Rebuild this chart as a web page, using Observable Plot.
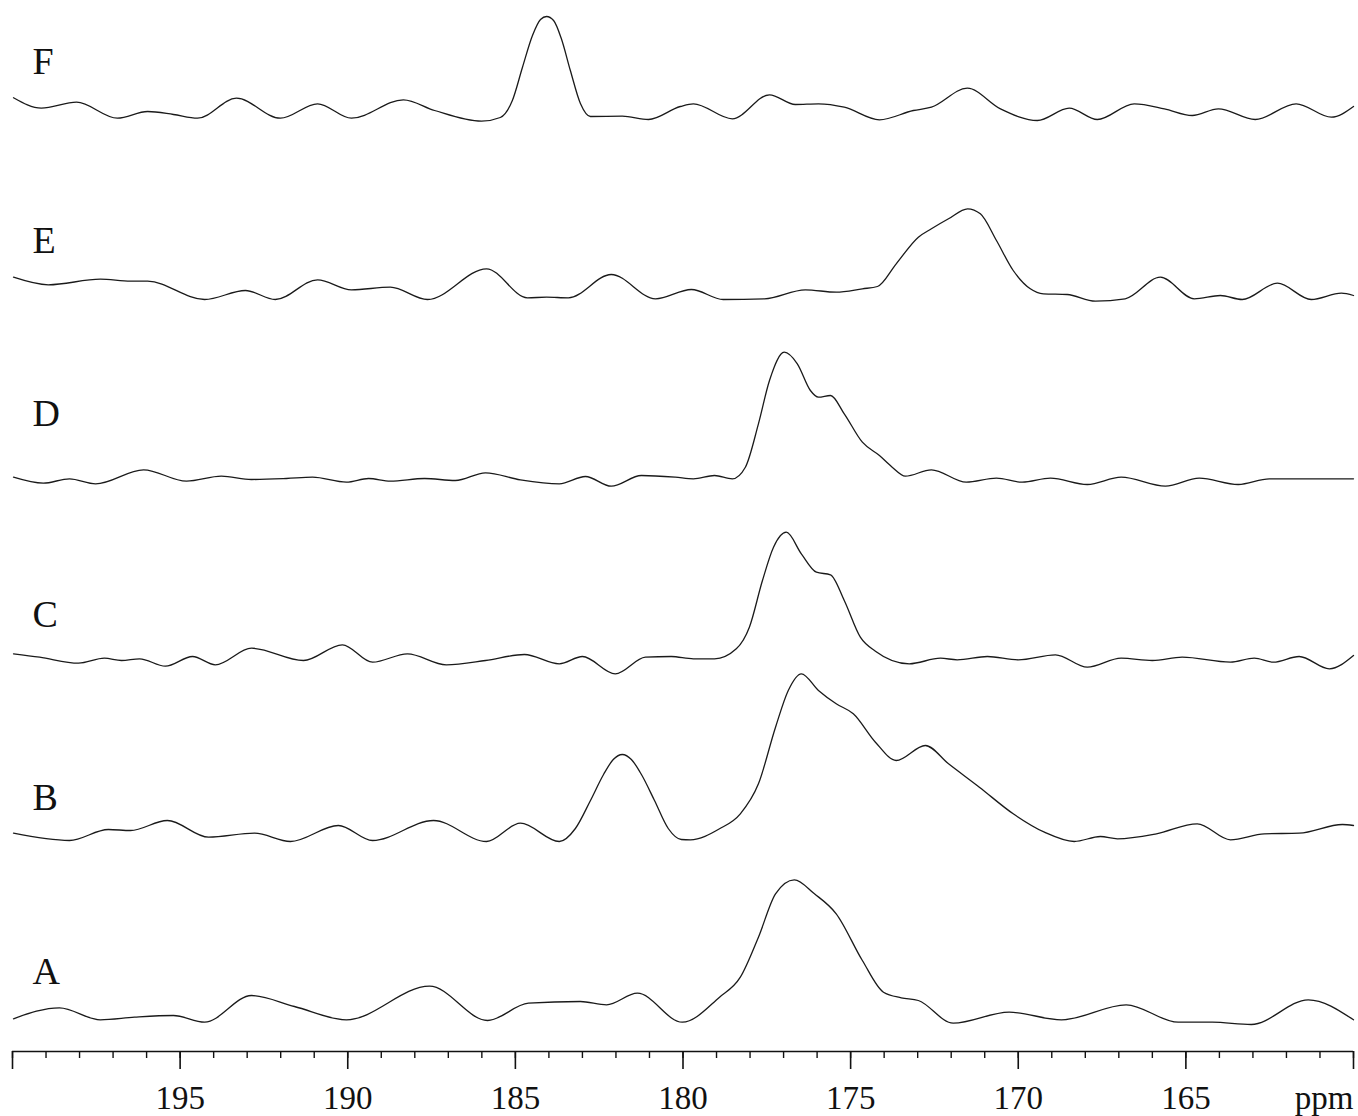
<!DOCTYPE html>
<html>
<head>
<meta charset="utf-8">
<script src="https://cdn.jsdelivr.net/npm/d3@7"></script>
<script src="https://cdn.jsdelivr.net/npm/@observablehq/plot@0.6"></script>
<style>
  html, body { margin: 0; padding: 0; background: #fff; }
  #chart { width: 1358px; height: 1116px; }
</style>
</head>
<body>
<div id="chart"></div>
<script>
// ---- Data: chemical shift (ppm) vs. relative intensity, one array per spectrum ----
const spectrumLabels = ["A", "B", "C", "D", "E", "F"];

const spectrumA = [
  [199.97, 1.7], [198.60, 12.7], [197.38, 0.7], [196.36, 3.3], [195.20, 5], [194.27, -1.7],
  [192.87, 25], [191.59, 14], [190.04, 0.7], [187.56, 34.3], [185.83, 0], [184.61, 17.3],
  [183.06, 19], [182.28, 15.7], [181.36, 27.3], [180.02, -1.7], [178.91, 23.3], [178.29, 43.3],
  [177.75, 83.3], [177.24, 126.7], [176.68, 140.7], [176.08, 126.7], [175.43, 106.7], [174.65, 60],
  [174.02, 28.3], [173.49, 22.7], [172.98, 20], [171.94, -2.7], [170.27, 8.3], [168.71, 0.7],
  [166.78, 15.7], [165.23, -1.7], [164.21, -1.7], [163.05, -4], [161.35, 20.7], [160.0, 0.7]
];

const spectrumB = [
  [199.97, 7.3], [198.30, 0], [197.14, 11], [196.48, 10], [195.38, 20], [194.15, 3.3],
  [192.78, 7.3], [191.71, -1], [190.28, 15], [189.26, 0], [187.44, 20], [185.86, -1],
  [184.85, 17.3], [183.69, -1], [183.21, 12], [182.76, 40], [182.37, 66], [182.08, 81],
  [181.81, 86], [181.54, 81], [181.24, 66], [180.85, 40], [180.44, 12], [180.05, 1],
  [179.78, 0.7], [178.91, 11.7], [178.29, 26.7], [177.75, 56.7], [177.24, 113.3],
  [176.86, 150], [176.47, 166.7], [175.96, 150], [175.43, 136.7], [174.92, 126.7], [174.26, 98.3],
  [173.64, 80], [172.77, 95], [172.08, 76.7], [171.16, 53.3], [170.15, 26.7], [169.22, 8.3],
  [168.33, -1], [167.55, 4], [167.04, 1.7], [165.88, 6.7], [164.66, 16.7], [163.67, 0.7],
  [162.66, 6.7], [161.62, 7.3], [160.33, 16], [160.0, 15]
];

const spectrumC = [
  [199.97, 6.7], [199.19, 3.3], [198.03, -2.7], [197.26, 2.3], [196.75, 0], [196.21, 1.7],
  [195.44, -5.7], [194.63, 4], [193.95, -4.3], [192.87, 12.3], [191.32, 0], [190.16, 15.7],
  [189.26, -1.7], [188.22, 6.7], [187.06, -4.3], [185.89, 0], [184.73, 6], [183.69, -3.3],
  [183.00, 4], [182.02, -13.3], [181.12, 3.3], [180.35, 4], [179.69, 1.7], [179.06, 1.7],
  [178.41, 11.7], [178.02, 33.3], [177.63, 80], [177.30, 113.3], [176.92, 128.3], [176.47, 106.7],
  [176.02, 88.3], [175.60, 85.7], [175.19, 60], [174.71, 23.3], [174.26, 9.3], [173.25, -3.3],
  [172.32, 2.3], [171.82, 0.7], [170.92, 4], [170.00, 0.7], [168.89, 5.7], [167.94, -6.7],
  [166.93, 2.3], [166.00, 0], [165.11, 3.3], [163.67, -1.7], [162.96, 2.3], [162.39, -1.7],
  [161.62, 4], [160.72, -8.3], [160.0, 5]
];

const spectrumD = [
  [199.97, 4.3], [199.08, -1.7], [198.30, 2.7], [197.52, -2.3], [196.09, 11.7], [194.81, 0.3],
  [193.77, 5.3], [192.87, 2], [191.83, 3], [191.05, 4.3], [190.04, -0.7], [189.38, 3],
  [188.73, 0.3], [187.71, 3], [186.79, 1], [185.89, 8.7], [184.85, 1.7], [183.69, -2.3],
  [182.91, 5], [182.14, -4.7], [181.24, 6], [180.23, 4.3], [179.69, 2.7], [179.06, 6],
  [178.53, 2.7], [178.14, 14.3], [177.75, 57.7], [177.42, 101], [176.98, 129.3], [176.59, 117.7],
  [176.20, 91], [175.96, 84.3], [175.60, 86], [175.19, 67.7], [174.65, 39.3], [174.14, 26],
  [173.76, 14.3], [173.37, 5.3], [172.59, 11.7], [171.55, -0.7], [170.65, 3.3], [169.88, -0.7],
  [169.04, 3.3], [167.94, -3], [166.93, 4.3], [165.61, -4.7], [164.60, 3.3], [163.44, -3],
  [162.51, 2.7], [160.0, 2.7]
];

const spectrumE = [
  [199.97, 21.3], [198.93, 13.7], [197.38, 19.3], [196.48, 17.3], [195.97, 17.3], [194.27, -1],
  [193.05, 8], [192.16, -1], [190.90, 18.7], [189.89, 8.7], [188.73, 11.3], [187.62, -1],
  [185.86, 29.7], [184.64, 0.7], [184.07, 1.3], [183.42, 0.7], [182.14, 24], [180.82, -0.3],
  [179.75, 9], [178.80, -1], [177.57, -0.3], [176.35, 8.7], [175.43, 6.3], [174.65, 9.7],
  [174.20, 12], [173.64, 34.7], [172.98, 61.3], [172.59, 69.7], [172.08, 79.7], [171.51, 89.7],
  [171.13, 84.7], [170.65, 58], [170.15, 28], [169.64, 9.7], [169.25, 4.7], [168.54, 4],
  [167.70, -2.7], [166.81, -0.3], [165.76, 21.3], [164.75, -0.3], [163.97, 3], [163.32, -1],
  [162.27, 15.3], [161.26, -1], [160.36, 5.3], [160.0, 3]
];

const spectrumF = [
  [199.97, 20.7], [199.14, 10.3], [198.09, 16.3], [196.87, 0.3], [195.97, 7], [195.20, 4],
  [194.48, 0.3], [193.32, 20.3], [192.01, 0.3], [190.90, 14.7], [189.89, 0.3], [188.34, 18.7],
  [187.41, 8], [186.01, -2.7], [185.45, 1], [185.09, 18], [184.79, 51], [184.49, 83],
  [184.25, 99], [184.07, 102], [183.86, 98], [183.63, 80], [183.36, 48], [183.06, 15],
  [182.76, 2], [181.81, 2.3], [181.03, -1], [180.08, 12], [179.69, 14.7], [178.53, -0.3],
  [177.42, 23.7], [176.65, 14], [175.96, 14.7], [175.19, 11.3], [174.14, -1.3], [173.13, 8],
  [172.59, 11.3], [171.52, 30.3], [170.53, 9.7], [169.43, -2], [168.48, 10.3], [167.64, -1],
  [166.54, 14.7], [165.64, 9.7], [164.81, 3], [164.03, 9.7], [162.93, -1], [161.71, 14.7],
  [160.66, 1.3], [160.0, 12]
];

const majorTicks = [200, 195, 190, 185, 180, 175, 170, 165, 160];
const labeledTicks = [195, 190, 185, 180, 175, 170, 165];
const minorTicks = d3.range(160, 201, 1);
const axisUnit = "ppm";

// ---- Layout (not data): vertical stacking of the traces ----
const spectra = [spectrumA, spectrumB, spectrumC, spectrumD, spectrumE, spectrumF];
const stackOffsets = [31, 211, 391, 570, 753, 933];
const labelLift = [37, 31, 34, 56, 46, 45];

const rows = spectra.flatMap((s, i) =>
  s.map(([ppm, v]) => ({ series: spectrumLabels[i], ppm, y: stackOffsets[i] + v }))
);

const serif = "'Liberation Serif', 'Times New Roman', Times, serif";

const chart = Plot.plot({
  width: 1358,
  height: 1116,
  marginLeft: 12,
  marginRight: 5,
  marginTop: 0,
  marginBottom: 65,
  style: { fontFamily: serif, background: "#fff", color: "#111" },
  x: { domain: [200, 160], label: null },
  y: { domain: [0, 1051], axis: null, label: null },
  marks: [
    Plot.line(rows, {
      x: "ppm", y: "y", z: "series",
      curve: "monotone-x", stroke: "#1a1a1a", strokeWidth: 1.3
    }),
    Plot.text(spectrumLabels, {
      x: () => 199.4,
      y: (d, i) => stackOffsets[i] + labelLift[i],
      text: d => d,
      textAnchor: "start", lineAnchor: "bottom",
      fontSize: 38, fontFamily: serif, fill: "#111"
    }),
    Plot.ruleY([0], { stroke: "#111", strokeWidth: 1.6 }),
    Plot.axisX({
      ticks: minorTicks, tickSize: 7, tickFormat: () => "",
      strokeWidth: 1.4, stroke: "#111", label: null
    }),
    Plot.axisX({
      ticks: majorTicks, tickSize: 18, tickPadding: 16,
      tickFormat: d => labeledTicks.includes(d) ? String(d) : "",
      fontSize: 33, fontFamily: serif, strokeWidth: 1.6, stroke: "#111", fill: "#111",
      label: null
    }),
    Plot.text([axisUnit], {
      frameAnchor: "bottom-right", dy: 57,
      text: d => d, textAnchor: "end", lineAnchor: "bottom",
      fontSize: 33, fontFamily: serif, fill: "#111"
    })
  ]
});

document.getElementById("chart").appendChild(chart);
</script>
</body>
</html>
